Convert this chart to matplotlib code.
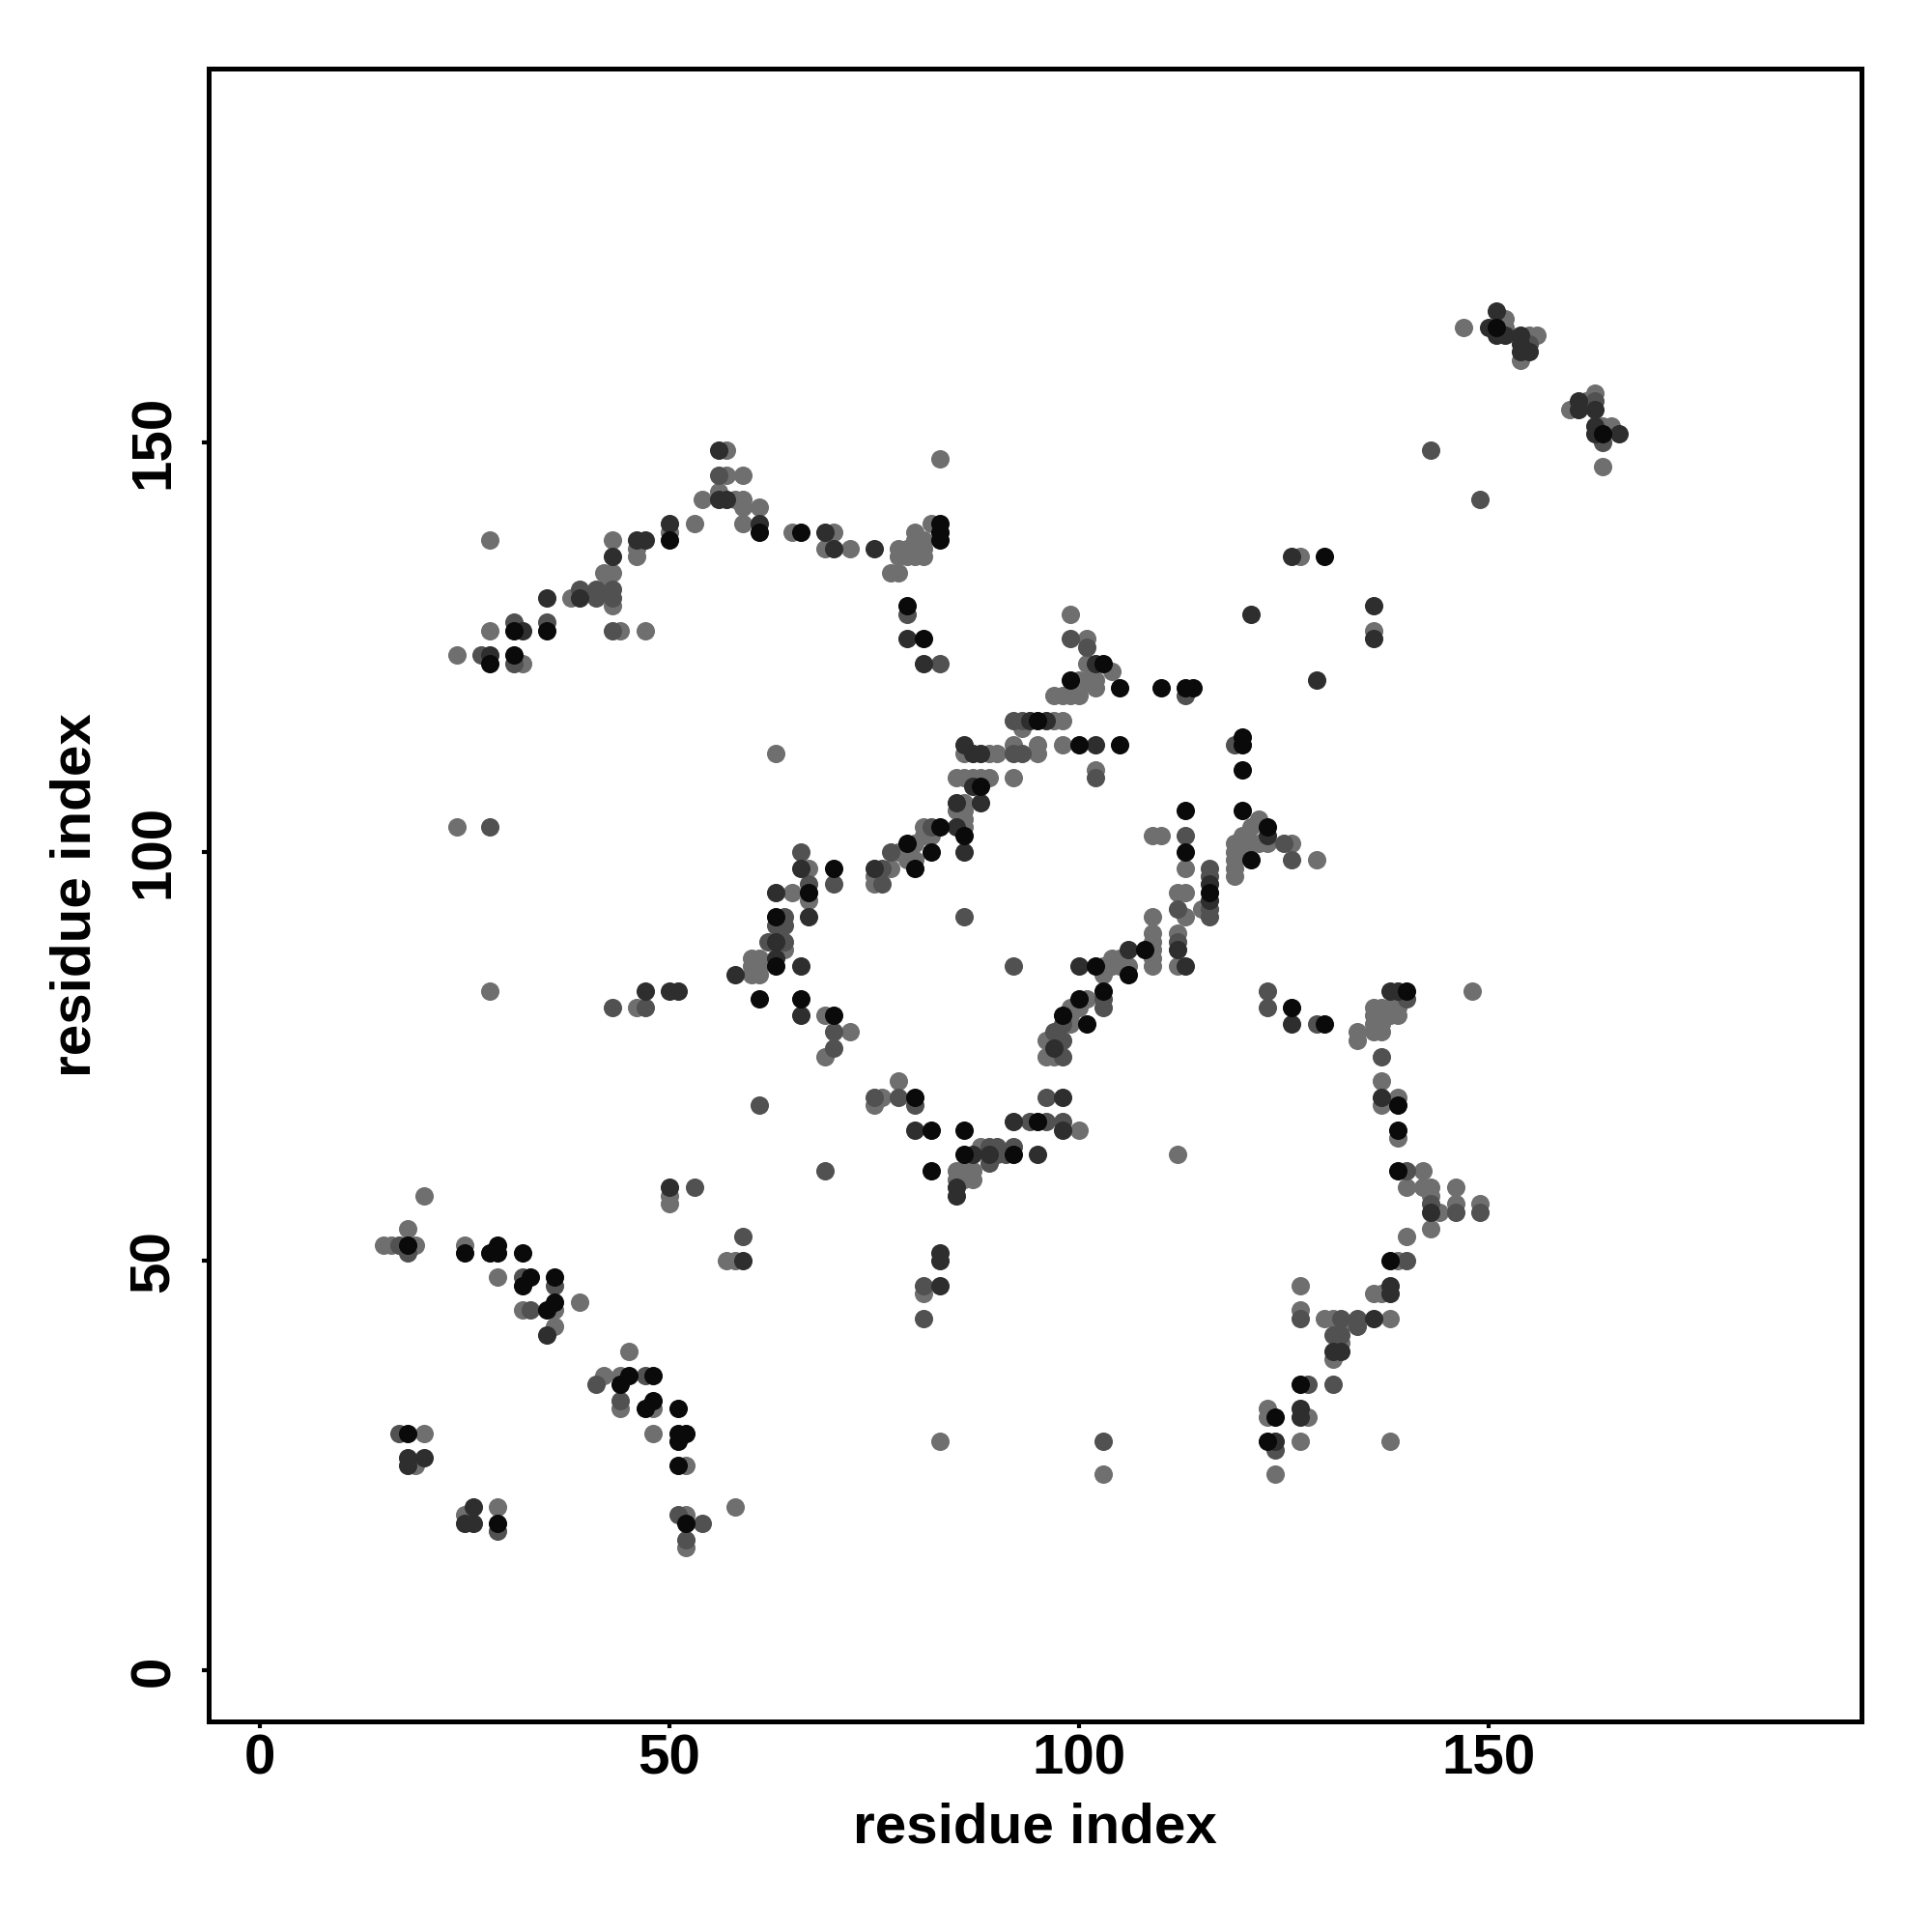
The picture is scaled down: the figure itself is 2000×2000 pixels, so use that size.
import matplotlib
matplotlib.use("Agg")
import matplotlib.pyplot as plt

# contact map: residue pairs, grouped by shade
gray_x = [57, 57, 59, 54, 56, 58, 59, 59, 61, 53, 59, 65, 50, 46, 46, 43, 42, 43, 43, 42, 38, 28, 28, 44, 47, 24, 32,
          70, 69, 72, 78, 79, 80, 81, 78, 79, 80, 81, 80, 80, 81, 82, 77, 78, 83, 99, 101, 101, 104, 100, 101, 102,
          97, 98, 99, 100, 102, 100,
          147, 152, 152, 155, 156, 154, 160, 162, 163, 164, 165, 164, 127, 136,
          63, 24, 28, 64, 60, 61, 60, 61, 60, 61, 46,
          97, 98, 93, 86, 89, 90, 92, 95, 95, 98, 102, 85, 86, 87, 88, 89, 92, 86, 85, 86, 86, 86, 81, 80, 81, 82,
          80, 79, 78, 77, 75, 75, 67, 67, 65, 69, 72, 69, 78, 76, 75, 100, 109, 110, 113, 115, 112, 113, 113, 109,
          112, 112, 109, 109, 109, 109, 109, 103, 104, 105, 106, 103, 105, 104, 101, 99, 99, 99, 100, 96, 96, 97,
          122, 121, 120, 119, 121, 122, 123, 126, 129, 119, 119, 120, 119, 119, 134, 134, 136, 137, 138, 139, 136,
          137, 138, 139, 136, 137, 136, 137, 148, 137, 137, 139, 139,
          20, 18, 15, 16, 19, 25, 29, 32, 36, 39, 36, 45, 42, 44, 44, 48, 48, 52, 52, 52, 58, 20, 19, 25, 29, 50,
          50, 57, 58,
          85, 86, 87, 85, 86, 87, 88, 112, 81, 83, 103,
          142, 140, 142, 143, 146, 143, 144, 146, 149, 143, 140, 139, 136, 137, 127, 127, 130, 131, 138, 132, 131,
          132, 123, 123, 128, 127, 138, 124]
gray_y = [149, 146, 146, 143, 144, 143, 143, 142, 142, 140, 140, 139, 139, 137, 136, 138, 134, 134, 130, 132, 131,
          127, 138, 127, 127, 124, 123,
          139, 137, 137, 137, 137, 137, 137, 136, 136, 136, 136, 139, 138, 138, 140, 134, 134, 148, 129, 126, 123,
          122, 121, 121, 121, 119, 119, 119, 119, 120, 120,
          164, 165, 164, 163, 163, 160, 154, 155, 156, 152, 152, 147, 136, 127,
          112, 103, 83, 88, 87, 87, 86, 86, 85, 85, 81,
          116, 116, 115, 112, 112, 112, 113, 113, 112, 113, 110, 109, 109, 109, 109, 109, 109, 106, 105, 105, 104,
          103, 103, 101, 102, 102, 99, 99, 100, 98, 97, 96, 98, 94, 95, 80, 78, 75, 72, 70, 69, 66, 102, 102, 98,
          93, 95, 95, 92, 92, 90, 86, 90, 89, 88, 87, 86, 86, 86, 86, 86, 85, 87, 87, 82, 81, 80, 79, 81, 77, 75,
          75,
          104, 103, 102, 101, 101, 101, 101, 101, 99, 99, 97, 100, 100, 98, 78, 77, 81, 81, 81, 81, 80, 80, 80, 80,
          79, 79, 78, 78, 83, 72, 69, 70, 65,
          58, 54, 52, 52, 52, 52, 48, 44, 44, 45, 42, 39, 36, 36, 32, 32, 29, 25, 19, 15, 20, 29, 25, 19, 20, 58,
          57, 50, 50,
          61, 61, 61, 60, 60, 60, 64, 63, 46, 28, 24,
          61, 59, 59, 59, 59, 58, 56, 57, 57, 54, 53, 50, 46, 46, 47, 44, 43, 43, 43, 42, 38, 40, 32, 31, 31, 28,
          28, 24]

mid_x = [56, 43, 43, 39, 41, 41, 35, 31, 43, 27, 31,
         79, 83, 99, 101, 113,
         155, 163, 164, 143, 149,
         28, 64, 63, 64, 62, 64, 61, 43, 47,
         92, 93, 92, 93, 102, 82, 77, 76, 76, 66, 67, 70, 86, 92, 70, 70, 75, 78, 80, 94, 96, 98, 96, 113, 116, 116,
         116, 116, 112, 112, 103, 103, 98, 98, 97, 98,
         119, 125, 126, 123, 123, 129, 140, 137,
         17, 18, 32, 36, 33, 41, 47, 44, 51, 52, 54, 17, 29, 53, 59,
         69, 89, 90, 92, 90, 91, 89, 81, 81, 103,
         140, 143, 146, 149, 140, 127, 132, 134, 134, 131, 132, 128, 131, 124]
mid_y = [146, 132, 131, 132, 132, 131, 128, 128, 127, 124, 123,
         129, 123, 126, 125, 119,
         162, 155, 150, 149, 143,
         103, 92, 91, 91, 89, 89, 69, 81, 81,
         116, 116, 112, 112, 109, 103, 100, 98, 96, 100, 96, 96, 92, 86, 78, 76, 70, 70, 69, 67, 67, 67, 70, 102,
         98, 97, 93, 92, 93, 89, 82, 81, 79, 77, 78, 75,
         113, 101, 99, 83, 81, 79, 82, 75,
         52, 51, 48, 47, 44, 35, 36, 33, 19, 16, 18, 29, 17, 59, 53,
         61, 64, 64, 64, 63, 63, 62, 47, 43, 28,
         61, 57, 56, 56, 50, 43, 43, 43, 42, 41, 41, 35, 35, 27]

dark_x = [56, 56, 57, 61, 50, 46, 47, 43, 39, 35, 32, 28,
          69, 70, 75, 79, 81, 102,
          151, 150, 151, 152, 154, 154, 154, 155, 161, 161, 163, 163, 163, 166, 126, 121, 136, 136, 129,
          63, 63, 63, 58, 47, 50, 51,
          94, 96, 86, 87, 88, 102, 87, 85, 88, 85, 86, 75, 66, 67, 66, 66, 80, 92, 98, 98, 116, 116, 112, 113, 106,
          100, 97,
          123, 126, 138, 139, 137,
          35, 18, 18, 20, 26, 26, 25, 50, 59,
          85, 85, 87, 89, 95, 83, 83, 83,
          143, 138, 138, 136, 131, 132, 127, 127, 124]
dark_y = [149, 143, 143, 140, 140, 138, 138, 136, 131, 131, 127, 124,
          139, 137, 137, 126, 123, 123,
          166, 164, 163, 163, 163, 162, 161, 161, 155, 154, 154, 152, 151, 151, 136, 129, 130, 126, 121,
          95, 89, 87, 85, 83, 83, 83,
          116, 116, 113, 112, 112, 113, 108, 106, 106, 103, 100, 98, 98, 92, 86, 80, 66, 67, 66, 70, 96, 94, 88, 86,
          88, 86, 76,
          102, 79, 83, 83, 70,
          41, 26, 25, 26, 20, 18, 18, 59, 50,
          59, 58, 63, 63, 63, 51, 50, 47,
          56, 47, 46, 43, 39, 39, 32, 31, 28]

black_x = [61, 50, 35, 31, 28, 31,
           66, 83, 83, 83, 79, 81, 103, 99, 105, 110, 113, 114,
           151, 164, 130,
           63, 63, 61,
           95, 100, 105, 88, 86, 83, 82, 79, 80, 67, 70, 66, 70, 80, 82, 86, 95, 113, 113, 116, 108, 102, 106, 103,
           100, 101, 98,
           120, 120, 120, 120, 123, 121, 126, 130, 140, 139, 139,
           18, 25, 28, 29, 29, 32, 33, 32, 36, 35, 36, 44, 45, 48, 47, 48, 51, 51, 52, 51, 51, 52, 18, 29,
           82, 86, 92,
           139, 138, 127, 124, 123]
black_y = [139, 138, 127, 127, 123, 124,
           139, 140, 139, 138, 130, 126, 123, 121, 120, 120, 120, 120,
           164, 151, 136,
           92, 86, 82,
           116, 113, 113, 108, 102, 103, 100, 101, 98, 95, 98, 82, 80, 70, 66, 66, 67, 105, 100, 95, 88, 86, 85, 83,
           82, 79, 80,
           114, 113, 110, 105, 103, 99, 81, 79, 83, 69, 66,
           52, 51, 51, 52, 51, 51, 48, 47, 48, 44, 45, 35, 36, 36, 32, 33, 32, 29, 29, 28, 25, 18, 29, 18,
           61, 63, 63,
           61, 50, 35, 31, 28]

ticks = [0, 50, 100, 150]

plt.rcParams['font.family'] = ['Liberation Sans', 'DejaVu Sans']
plt.rcParams['font.weight'] = 'bold'

fig = plt.figure(figsize=(10, 10), dpi=200)
ax = fig.add_axes([0.108, 0.109, 0.8555, 0.8555])

sz = 47
ax.scatter(gray_x, gray_y, s=sz, c='#6f6f6f', linewidths=0)
ax.scatter(mid_x, mid_y, s=sz, c='#515151', linewidths=0)
ax.scatter(dark_x, dark_y, s=sz, c='#2e2e2e', linewidths=0)
ax.scatter(black_x, black_y, s=sz, c='#0a0a0a', linewidths=0)

ax.set_xlim(-6.3, 195.6)
ax.set_ylim(-6.2, 195.6)
ax.set_xticks(ticks)
ax.set_yticks(ticks)
ax.set_xticklabels([str(t) for t in ticks], fontsize=21, fontweight='bold')
ax.set_yticklabels([str(t) for t in ticks], fontsize=21, fontweight='bold',
                   rotation=90, va='center')
ax.tick_params(direction='out', length=2.5, width=1.5, pad=2)
ax.tick_params(axis='y', pad=8)
ax.tick_params(top=False, right=False)
for sp in ax.spines.values():
    sp.set_linewidth(1.8)

ax.set_xlabel('residue index', fontsize=21, fontweight='bold', labelpad=6)
ax.set_ylabel('residue index', fontsize=21, fontweight='bold', labelpad=10)

fig.savefig('out.png', dpi=200)
